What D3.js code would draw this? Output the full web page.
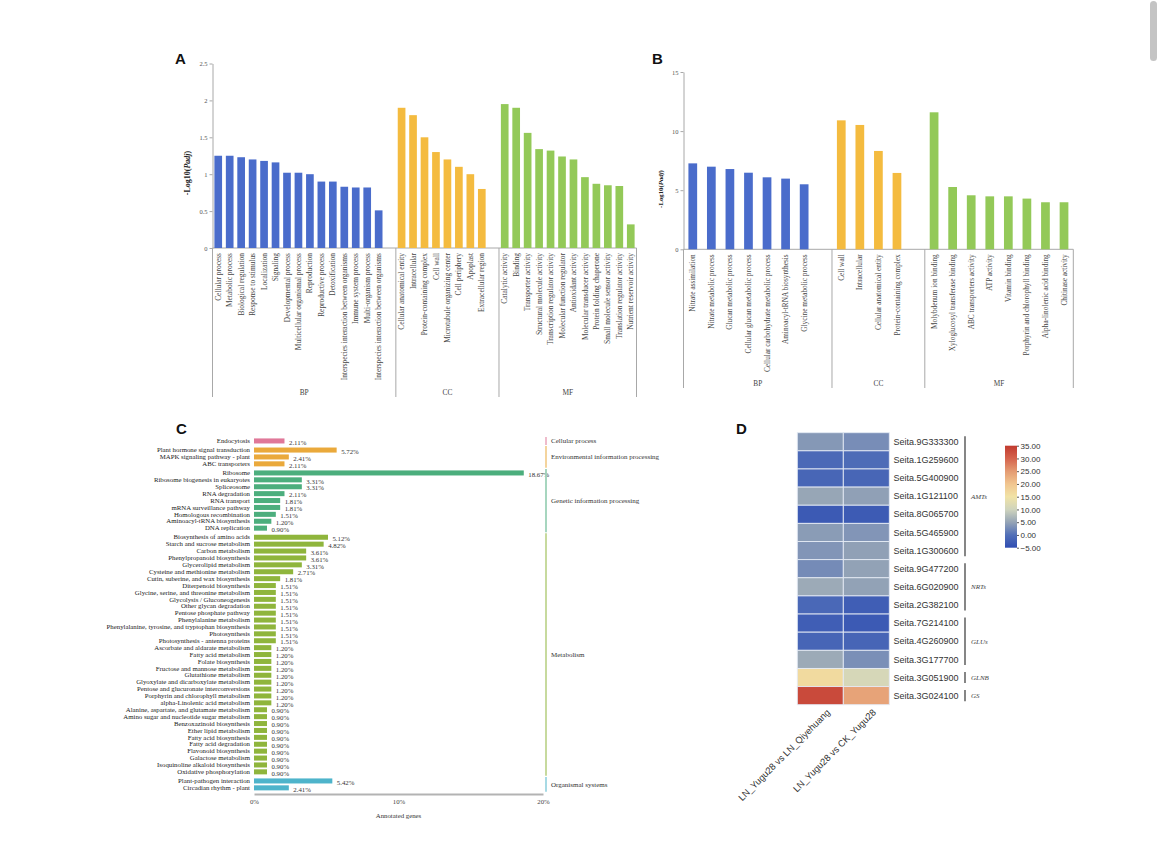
<!DOCTYPE html>
<html>
<head>
<meta charset="utf-8">
<script src="https://cdn.jsdelivr.net/npm/d3@7"></script>
<style>
  body { margin: 0; background: #fff; }
  svg { display: block; }
</style>
</head>
<body>
<svg id="fig" width="1170" height="845"></svg>
<script>
// ---------- Data: panel A (GO enrichment, -log10 Padj) ----------
const goA_BP_terms = ["Cellular process", "Metabolic process", "Biological regulation", "Response to stimulus",
  "Localization", "Signaling", "Developmental process", "Multicellular organismal process", "Reproduction",
  "Reproductive process", "Detoxification", "Interspecies interaction between organisms", "Immune system process",
  "Multi-organism process", "Interspecies interaction between organisms"];
const goA_BP_values = [1.25, 1.25, 1.23, 1.20, 1.18, 1.16, 1.02, 1.02, 1.00, 0.90, 0.90, 0.83, 0.82, 0.82, 0.51];
const goA_CC_terms = ["Cellular anatomical entity", "Intracellular", "Protein-containing complex", "Cell wall",
  "Microtubule organizing center", "Cell periphery", "Apoplast", "Extracellular region"];
const goA_CC_values = [1.90, 1.80, 1.50, 1.30, 1.20, 1.10, 1.00, 0.80];
const goA_MF_terms = ["Catalytic activity", "Binding", "Transporter activity", "Structural molecule activity",
  "Transcription regulator activity", "Molecular function regulator", "Antioxidant activity",
  "Molecular transducer activity", "Protein folding chaperone", "Small molecule sensor activity",
  "Translation regulator activity", "Nutrient reservoir activity"];
const goA_MF_values = [1.95, 1.90, 1.56, 1.34, 1.32, 1.24, 1.20, 0.96, 0.87, 0.85, 0.84, 0.32];
const goA_ticks = [0, 0.5, 1, 1.5, 2, 2.5];

// ---------- Data: panel B ----------
const goB_BP_terms = ["Nitrate assimilation", "Nitrate metabolic process", "Glucan metabolic process",
  "Cellular glucan metabolic process", "Cellular carbohydrate metabolic process", "Aminoacyl-tRNA biosynthesis",
  "Glycine metabolic process"];
const goB_BP_values = [7.27, 6.99, 6.79, 6.48, 6.09, 5.98, 5.50];
const goB_CC_terms = ["Cell wall", "Intracellular", "Cellular anatomical entity", "Protein-containing complex"];
const goB_CC_values = [10.91, 10.52, 8.32, 6.46];
const goB_MF_terms = ["Molybdenum ion binding", "Xyloglucosyl transferase binding", "ABC transporters activity",
  "ATP activity", "Vitamin binding", "Porphyrin and chlorophyll binding", "Alpha-linolenic acid binding",
  "Chitinase activity"];
const goB_MF_values = [11.59, 5.27, 4.57, 4.48, 4.48, 4.29, 3.98, 3.98];
const goB_ticks = [0, 5, 10, 15];

const goGroups = ["BP", "CC", "MF"];
const goColors = ["#4a6ccb", "#f4bb3f", "#93c958"];

// ---------- Data: panel C (KEGG classes, % annotated genes) ----------
const keggClasses = ["Cellular process", "Environmental information processing", "Genetic information processing",
  "Metabolism", "Organismal systems"];
const keggColors = ["#e07899", "#eaa93b", "#4cae7d", "#8fb53c", "#4eb4cb"];
const keggTerms = [
  "Endocytosis",
  "Plant hormone signal transduction", "MAPK signaling pathway - plant", "ABC transporters",
  "Ribosome", "Ribosome biogenesis in eukaryotes", "Spliceosome", "RNA degradation", "RNA transport",
  "mRNA surveillance pathway", "Homologous recombination", "Aminoacyl-tRNA biosynthesis", "DNA replication",
  "Biosynthesis of amino acids", "Starch and sucrose metabolism", "Carbon metabolism", "Phenylpropanoid biosynthesis",
  "Glycerolipid metabolism", "Cysteine and methionine metabolism", "Cutin, suberine, and wax biosynthesis",
  "Diterpenoid biosynthesis", "Glycine, serine, and threonine metabolism", "Glycolysis / Gluconeogenesis",
  "Other glycan degradation", "Pentose phosphate pathway", "Phenylalanine metabolism",
  "Phenylalanine, tyrosine, and tryptophan biosynthesis", "Photosynthesis", "Photosynthesis - antenna proteins",
  "Ascorbate and aldarate metabolism", "Fatty acid metabolism", "Folate biosynthesis",
  "Fructose and mannose metabolism", "Glutathione metabolism", "Glyoxylate and dicarboxylate metabolism",
  "Pentose and glucuronate interconversions", "Porphyrin and chlorophyll metabolism",
  "alpha-Linolenic acid metabolism", "Alanine, aspartate, and glutamate metabolism",
  "Amino sugar and nucleotide sugar metabolism", "Benzoxazinoid biosynthesis", "Ether lipid metabolism",
  "Fatty acid biosynthesis", "Fatty acid degradation", "Flavonoid biosynthesis", "Galactose metabolism",
  "Isoquinoline alkaloid biosynthesis", "Oxidative phosphorylation",
  "Plant-pathogen interaction", "Circadian rhythm - plant"
];
const keggPercent = [
  2.11,
  5.72, 2.41, 2.11,
  18.67, 3.31, 3.31, 2.11, 1.81, 1.81, 1.51, 1.20, 0.90,
  5.12, 4.82, 3.61, 3.61, 3.31, 2.71, 1.81, 1.51, 1.51, 1.51, 1.51, 1.51, 1.51, 1.51, 1.51, 1.51,
  1.20, 1.20, 1.20, 1.20, 1.20, 1.20, 1.20, 1.20, 1.20,
  0.90, 0.90, 0.90, 0.90, 0.90, 0.90, 0.90, 0.90, 0.90, 0.90,
  5.42, 2.41
];
const keggClassIdx = [
  0,
  1, 1, 1,
  2, 2, 2, 2, 2, 2, 2, 2, 2,
  3, 3, 3, 3, 3, 3, 3, 3, 3, 3, 3, 3, 3, 3, 3, 3,
  3, 3, 3, 3, 3, 3, 3, 3, 3,
  3, 3, 3, 3, 3, 3, 3, 3, 3, 3,
  4, 4
];
const keggTicks = [0, 10, 20];

// ---------- Data: panel D (heatmap) ----------
const heatGenes = ["Seita.9G333300", "Seita.1G259600", "Seita.5G400900", "Seita.1G121100", "Seita.8G065700",
  "Seita.5G465900", "Seita.1G300600", "Seita.9G477200", "Seita.6G020900", "Seita.2G382100", "Seita.7G214100",
  "Seita.4G260900", "Seita.3G177700", "Seita.3G051900", "Seita.3G024100"];
const heatCompares = ["LN_Yugu28 vs LN_Qiyehuang", "LN_Yugu28 vs CK_Yugu28"];
const heatVsQiyehuang = [3.8, -1.0, -1.5, 5.2, -3.2, 4.2, 3.6, 2.6, 5.6, -1.2, -2.6, -1.6, 5.6, 16.5, 33.0];
const heatVsCK = [2.8, -0.6, -1.5, 4.6, -3.0, 3.6, 4.6, 4.8, 4.8, -2.6, -3.2, -1.6, 3.0, 11.0, 24.0];
const geneFamilies = ["AMTs", "NRTs", "GLUs", "GLNB", "GS"];
const familySizes = [7, 3, 3, 1, 1];
const legendStops = [-5, 0, 5, 10, 15, 20, 25, 30, 35];
const legendColors = ["#2f4db2", "#5270b8", "#95a4b6", "#cfd4bd", "#f1e3a6", "#f1c58f", "#e49b72", "#d5634d", "#c13a2f"];

// ---------- Shared ----------
const serif = "'Liberation Serif', 'Times New Roman', serif";
const sans = "'Liberation Sans', Arial, sans-serif";
const svg = d3.select("#fig");

// page scrollbar thumb seen at the top right of the screenshot
svg.append("rect").attr("x", 1150).attr("y", 1).attr("width", 7).attr("height", 60)
  .attr("rx", 3.5).attr("fill", "#c4c4c4");

function panelLetter(txt, x, y) {
  svg.append("text").attr("x", x).attr("y", y)
    .attr("font-family", sans).attr("font-weight", "bold").attr("font-size", 15)
    .attr("fill", "#111").text(txt);
}

// ---------- GO bar panels (A, B) ----------
function drawGoPanel(cfg) {
  const g = svg.append("g");
  const items = [];
  const keys = [];
  const groupFirst = [];
  cfg.groups.forEach((grp, gi) => {
    groupFirst.push(gi + "-0");
    grp.terms.forEach((t, i) => {
      const key = gi + "-" + i;
      keys.push(key);
      items.push({ key, term: t, value: grp.values[i], color: goColors[gi] });
    });
    if (gi < cfg.groups.length - 1) keys.push("gap-" + gi);
  });

  const x = d3.scaleBand().domain(keys).range([cfg.x0, cfg.x1])
    .paddingInner(cfg.pad).paddingOuter(cfg.pad / 2);
  const y = d3.scaleLinear().domain([0, d3.max(cfg.ticks)]).range([cfg.yBase, cfg.yTop]);
  const slotStart = k => x(k) - x.step() * cfg.pad / 2;

  // y axis
  const ax = g.append("g").attr("transform", `translate(${cfg.x0},0)`)
    .call(d3.axisLeft(y).tickValues(cfg.ticks).tickSize(3).tickSizeOuter(0).tickFormat(d3.format("~g")));
  ax.select(".domain").attr("stroke", "#a8a8a8");
  ax.selectAll(".tick line").attr("stroke", "#a8a8a8");
  ax.selectAll(".tick text").attr("font-family", serif).attr("font-size", cfg.tickFont)
    .attr("fill", "#555").attr("x", -5);

  // x baseline
  g.append("line").attr("x1", cfg.x0).attr("x2", cfg.x1).attr("y1", cfg.yBase).attr("y2", cfg.yBase)
    .attr("stroke", "#a8a8a8");

  // bars
  g.selectAll("rect.bar").data(items).enter().append("rect")
    .attr("class", "bar")
    .attr("x", d => x(d.key))
    .attr("width", x.bandwidth())
    .attr("y", d => y(d.value))
    .attr("height", d => cfg.yBase - y(d.value))
    .attr("fill", d => d.color);

  // category labels (vertical)
  g.selectAll("text.cat").data(items).enter().append("text")
    .attr("class", "cat")
    .attr("transform", d => `translate(${x(d.key) + x.bandwidth() / 2},${cfg.yBase + 5}) rotate(-90)`)
    .attr("text-anchor", "end")
    .attr("dy", "0.35em")
    .attr("font-family", serif).attr("font-size", cfg.labelFont).attr("fill", "#444")
    .text(d => d.term);

  // group separators and labels
  const bounds = groupFirst.map(slotStart).concat([cfg.x1]);
  g.selectAll("line.sep").data(bounds).enter().append("line")
    .attr("class", "sep")
    .attr("x1", d => d).attr("x2", d => d)
    .attr("y1", cfg.yBase).attr("y2", cfg.sepBottom)
    .attr("stroke", "#a8a8a8");
  g.selectAll("text.grp").data(goGroups).enter().append("text")
    .attr("class", "grp")
    .attr("x", (d, i) => (bounds[i] + bounds[i + 1]) / 2)
    .attr("y", cfg.groupLabelY)
    .attr("text-anchor", "middle")
    .attr("font-family", serif).attr("font-size", cfg.labelFont).attr("fill", "#444")
    .text(d => d);

  // y title
  const t = g.append("text")
    .attr("transform", `translate(${cfg.titleX},${cfg.titleY}) rotate(-90)`)
    .attr("text-anchor", "middle")
    .attr("font-family", serif).attr("font-weight", "bold").attr("font-size", cfg.titleFont)
    .attr("fill", "#222");
  t.append("tspan").text("-Log10(");
  t.append("tspan").attr("font-style", "italic").text("Padj");
  t.append("tspan").text(")");
}

panelLetter("A", 175, 64);
drawGoPanel({
  groups: [
    { terms: goA_BP_terms, values: goA_BP_values },
    { terms: goA_CC_terms, values: goA_CC_values },
    { terms: goA_MF_terms, values: goA_MF_values }
  ],
  ticks: goA_ticks,
  x0: 212.5, x1: 636.5, yBase: 248, yTop: 63.5, pad: 0.33,
  tickFont: 6.5, labelFont: 7.4, titleFont: 8, titleX: 190, titleY: 173,
  sepBottom: 397, groupLabelY: 395
});

panelLetter("B", 652, 64);
drawGoPanel({
  groups: [
    { terms: goB_BP_terms, values: goB_BP_values },
    { terms: goB_CC_terms, values: goB_CC_values },
    { terms: goB_MF_terms, values: goB_MF_values }
  ],
  ticks: goB_ticks,
  x0: 683.5, x1: 1073.3, yBase: 249.3, yTop: 72, pad: 0.53,
  tickFont: 6.5, labelFont: 7.3, titleFont: 6.8, titleX: 663, titleY: 189,
  sepBottom: 388, groupLabelY: 385.5
});

// ---------- Panel C: KEGG horizontal bars ----------
panelLetter("C", 176, 434);
(function drawKegg() {
  const g = svg.append("g");
  const rowStep = 6.9, classGap = 2.2, top = 437.5;
  const rows = d3.range(keggTerms.length);
  const yC = d3.scaleBand().domain(rows).range([top, top + rows.length * rowStep])
    .paddingInner(0.27).paddingOuter(0.135);
  const rowY = i => yC(i) + keggClassIdx[i] * classGap;
  const xC = d3.scaleLinear().domain([0, 20]).range([254, 543]);

  g.selectAll("rect.kb").data(rows).enter().append("rect")
    .attr("class", "kb")
    .attr("x", xC(0))
    .attr("y", i => rowY(i))
    .attr("width", i => xC(keggPercent[i]) - xC(0))
    .attr("height", yC.bandwidth())
    .attr("fill", i => keggColors[keggClassIdx[i]]);

  g.selectAll("text.kl").data(rows).enter().append("text")
    .attr("class", "kl")
    .attr("x", 250)
    .attr("y", i => rowY(i) + yC.bandwidth() / 2)
    .attr("dy", "0.33em")
    .attr("text-anchor", "end")
    .attr("font-family", serif).attr("font-size", 6.8).attr("fill", "#222")
    .text(i => keggTerms[i]);

  g.selectAll("text.kv").data(rows).enter().append("text")
    .attr("class", "kv")
    .attr("x", i => xC(keggPercent[i]) + 4.5)
    .attr("y", i => rowY(i) + yC.bandwidth() / 2 + 1.5)
    .attr("dy", "0.33em")
    .attr("font-family", serif).attr("font-size", 6.8).attr("fill", "#333")
    .text(i => keggPercent[i].toFixed(2) + "%");

  // x axis
  const axisY = 794;
  const ax = g.append("g").attr("transform", `translate(0,${axisY})`)
    .call(d3.axisBottom(xC).tickValues(keggTicks).tickSize(0).tickPadding(5).tickFormat(d => d + "%"));
  ax.select(".domain").attr("stroke", "#b3b3b3").attr("stroke-width", 2);
  ax.selectAll(".tick text").attr("font-family", serif).attr("font-size", 6.8).attr("fill", "#444");
  g.append("text").attr("x", xC(10)).attr("y", 818).attr("text-anchor", "middle")
    .attr("font-family", serif).attr("font-size", 6.8).attr("fill", "#333").text("Annotated genes");

  // class brackets on the right
  keggClasses.forEach((cls, ci) => {
    const idx = rows.filter(i => keggClassIdx[i] === ci);
    const y1 = rowY(idx[0]) - 1.5;
    const y2 = rowY(idx[idx.length - 1]) + yC.bandwidth() + 1.5;
    g.append("line").attr("x1", 546).attr("x2", 546).attr("y1", y1).attr("y2", y2)
      .attr("stroke", d3.interpolateRgb(keggColors[ci], "#ffffff")(0.45)).attr("stroke-width", 1.8);
    g.append("text").attr("x", 551).attr("y", (y1 + y2) / 2).attr("dy", "0.33em")
      .attr("font-family", serif).attr("font-size", 7).attr("fill", "#333").text(cls);
  });
})();

// ---------- Panel D: heatmap ----------
panelLetter("D", 736, 434);
(function drawHeatmap() {
  const g = svg.append("g");
  const xD = d3.scaleBand().domain(heatCompares).range([797.3, 889.3]);
  const yD = d3.scaleBand().domain(heatGenes).range([432.7, 704.7]);
  const color = d3.scaleLinear().domain(legendStops).range(legendColors).clamp(true);
  const cols = [heatVsQiyehuang, heatVsCK];

  const cells = [];
  heatGenes.forEach((gene, r) => heatCompares.forEach((c, ci) => cells.push({ gene, c, v: cols[ci][r] })));

  g.selectAll("rect.cell").data(cells).enter().append("rect")
    .attr("class", "cell")
    .attr("x", d => xD(d.c)).attr("y", d => yD(d.gene))
    .attr("width", xD.bandwidth()).attr("height", yD.bandwidth())
    .attr("fill", d => color(d.v))
    .attr("stroke", "#e4eaf4").attr("stroke-width", 0.9);

  g.selectAll("text.gene").data(heatGenes).enter().append("text")
    .attr("class", "gene")
    .attr("x", 893.5).attr("y", d => yD(d) + yD.bandwidth() / 2).attr("dy", "0.35em")
    .attr("font-family", sans).attr("font-size", 9).attr("fill", "#333").text(d => d);

  g.selectAll("text.cmp").data(heatCompares).enter().append("text")
    .attr("class", "cmp")
    .attr("transform", d => `translate(${xD(d) + xD.bandwidth() / 2 + 8},${704.7 + 6}) rotate(-45)`)
    .attr("text-anchor", "end").attr("dy", "0.35em")
    .attr("font-family", sans).attr("font-size", 9.3).attr("fill", "#333").text(d => d);

  // family brackets
  let start = 0;
  geneFamilies.forEach((fam, fi) => {
    const first = heatGenes[start], last = heatGenes[start + familySizes[fi] - 1];
    const y1 = yD(first) + 3.5, y2 = yD(last) + yD.bandwidth() - 3.5;
    g.append("line").attr("x1", 965).attr("x2", 965).attr("y1", y1).attr("y2", y2)
      .attr("stroke", "#444").attr("stroke-width", 1.3);
    g.append("text").attr("x", 971).attr("y", (y1 + y2) / 2).attr("dy", "0.35em")
      .attr("font-family", serif).attr("font-style", "italic").attr("font-size", 7).attr("fill", "#444").text(fam);
    start += familySizes[fi];
  });

  // colour legend
  const ly = d3.scaleLinear().domain([-5, 35]).range([547.7, 445.7]);
  const grad = svg.append("defs").append("linearGradient").attr("id", "heatGrad")
    .attr("x1", 0).attr("y1", 1).attr("x2", 0).attr("y2", 0);
  grad.selectAll("stop").data(legendStops).enter().append("stop")
    .attr("offset", d => (d - legendStops[0]) / (legendStops[legendStops.length - 1] - legendStops[0]))
    .attr("stop-color", d => color(d));
  g.append("rect").attr("x", 1005).attr("y", ly(35)).attr("width", 12).attr("height", ly(-5) - ly(35))
    .attr("fill", "url(#heatGrad)");
  const lax = g.append("g").attr("transform", "translate(1017,0)")
    .call(d3.axisRight(ly).tickValues(legendStops).tickSize(2).tickPadding(1.5).tickFormat(d3.format(".2f")));
  lax.select(".domain").remove();
  lax.selectAll(".tick line").attr("stroke", "#555");
  lax.selectAll(".tick text").attr("font-family", sans).attr("font-size", 8).attr("fill", "#333");
})();
</script>
</body>
</html>
